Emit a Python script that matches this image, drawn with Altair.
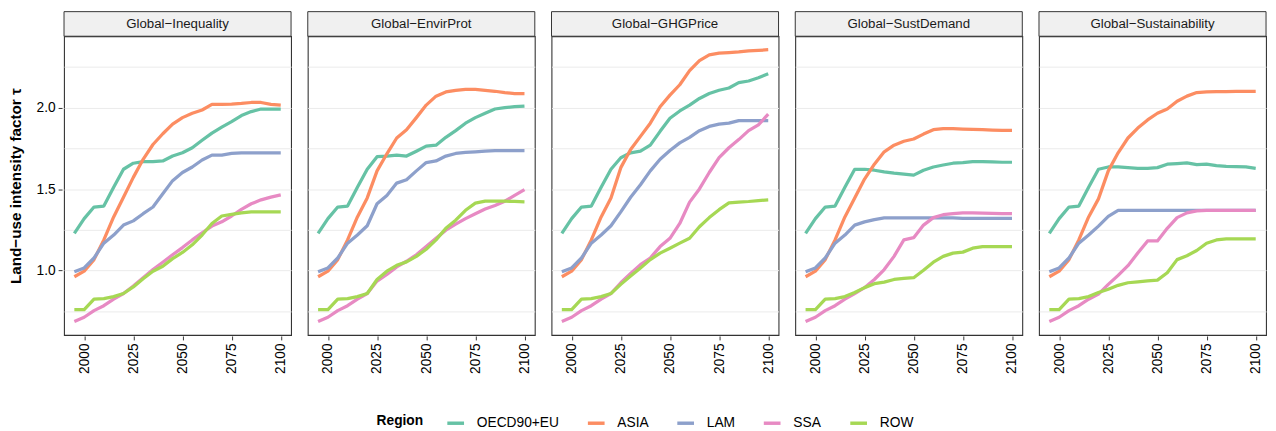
import altair as alt
import pandas as pd

YEARS = list(range(1995, 2101, 5))
REGIONS = ["OECD90+EU", "ASIA", "LAM", "SSA", "ROW"]
COLORS = ["#66c2a5", "#fc8d62", "#8da0cb", "#e78ac3", "#a6d854"]
SCENARIOS = ["Global−Inequality", "Global−EnvirProt", "Global−GHGPrice",
             "Global−SustDemand", "Global−Sustainability"]

# shared history 1995-2015
HIST_OECD = [1.228, 1.319, 1.390, 1.396, 1.511]
HIST_ASIA = [0.962, 0.996, 1.067, 1.188, 1.329]
HIST_LAM = [0.992, 1.016, 1.077, 1.168, 1.218]
HIST_SSA = [0.687, 0.713, 0.754, 0.784, 0.824]
HIST_ROW = [0.760, 0.760, 0.824, 0.828, 0.840]

# projections 2020-2100
INEQ_OECD = [1.622, 1.659, 1.669, 1.669, 1.673, 1.703, 1.723, 1.754, 1.800, 1.844, 1.881, 1.915, 1.952, 1.976, 1.992, 1.992, 1.992]
INEQ_ASIA = [1.450, 1.572, 1.683, 1.774, 1.840, 1.899, 1.939, 1.966, 1.986, 2.020, 2.020, 2.022, 2.026, 2.032, 2.032, 2.020, 2.016]
INEQ_LAM = [1.279, 1.305, 1.349, 1.390, 1.471, 1.552, 1.602, 1.636, 1.679, 1.709, 1.709, 1.719, 1.723, 1.723, 1.723, 1.723, 1.723]
INEQ_SSA = [0.859, 0.905, 0.956, 1.006, 1.051, 1.097, 1.141, 1.188, 1.232, 1.273, 1.299, 1.335, 1.376, 1.410, 1.434, 1.451, 1.465]
INEQ_ROW = [0.859, 0.899, 0.950, 0.996, 1.026, 1.073, 1.111, 1.158, 1.218, 1.289, 1.335, 1.345, 1.354, 1.360, 1.360, 1.360, 1.360]

ENV_OECD = [1.622, 1.699, 1.703, 1.709, 1.703, 1.733, 1.764, 1.770, 1.818, 1.859, 1.905, 1.939, 1.966, 1.992, 2.000, 2.006, 2.010]
ENV_ASIA = [1.446, 1.612, 1.717, 1.814, 1.865, 1.939, 2.016, 2.071, 2.097, 2.107, 2.113, 2.113, 2.107, 2.101, 2.093, 2.087, 2.087]
ENV_LAM = [1.275, 1.410, 1.461, 1.537, 1.558, 1.612, 1.663, 1.673, 1.703, 1.719, 1.725, 1.729, 1.733, 1.737, 1.737, 1.737, 1.737]
ENV_SSA = [0.859, 0.935, 0.976, 1.022, 1.057, 1.097, 1.147, 1.198, 1.248, 1.285, 1.319, 1.349, 1.378, 1.400, 1.426, 1.461, 1.497]
ENV_ROW = [0.859, 0.945, 0.996, 1.032, 1.053, 1.087, 1.131, 1.188, 1.259, 1.309, 1.370, 1.414, 1.426, 1.426, 1.426, 1.424, 1.422]

GHG_OECD = [1.622, 1.693, 1.723, 1.733, 1.770, 1.855, 1.935, 1.980, 2.016, 2.057, 2.087, 2.107, 2.121, 2.154, 2.164, 2.184, 2.208]
GHG_ASIA = [1.446, 1.632, 1.743, 1.824, 1.905, 2.006, 2.077, 2.141, 2.228, 2.289, 2.325, 2.335, 2.339, 2.343, 2.349, 2.352, 2.356]
GHG_LAM = [1.275, 1.360, 1.450, 1.527, 1.612, 1.683, 1.737, 1.784, 1.818, 1.859, 1.885, 1.899, 1.905, 1.921, 1.921, 1.921, 1.921]
GHG_SSA = [0.859, 0.925, 0.982, 1.036, 1.077, 1.147, 1.198, 1.289, 1.420, 1.501, 1.602, 1.693, 1.754, 1.804, 1.859, 1.895, 1.960]
GHG_ROW = [0.859, 0.915, 0.966, 1.016, 1.067, 1.107, 1.137, 1.168, 1.198, 1.269, 1.325, 1.374, 1.416, 1.420, 1.424, 1.430, 1.434]

SD_OECD = [1.622, 1.622, 1.616, 1.606, 1.598, 1.592, 1.586, 1.616, 1.636, 1.648, 1.659, 1.663, 1.669, 1.669, 1.667, 1.665, 1.665]
SD_ASIA = [1.446, 1.562, 1.653, 1.729, 1.770, 1.794, 1.808, 1.838, 1.865, 1.871, 1.871, 1.869, 1.867, 1.865, 1.863, 1.861, 1.861]
SD_LAM = [1.279, 1.299, 1.313, 1.323, 1.323, 1.323, 1.323, 1.323, 1.323, 1.323, 1.323, 1.321, 1.321, 1.320, 1.320, 1.320, 1.320]
SD_SSA = [0.859, 0.895, 0.945, 1.006, 1.087, 1.188, 1.202, 1.279, 1.325, 1.343, 1.349, 1.354, 1.354, 1.352, 1.351, 1.350, 1.349]
SD_ROW = [0.865, 0.895, 0.919, 0.929, 0.945, 0.952, 0.956, 1.002, 1.051, 1.087, 1.107, 1.113, 1.137, 1.147, 1.147, 1.147, 1.147]

SUS_OECD = [1.622, 1.636, 1.636, 1.632, 1.628, 1.628, 1.632, 1.653, 1.657, 1.661, 1.651, 1.653, 1.644, 1.640, 1.638, 1.636, 1.628]
SUS_ASIA = [1.440, 1.612, 1.723, 1.814, 1.875, 1.925, 1.966, 1.992, 2.040, 2.071, 2.093, 2.097, 2.099, 2.099, 2.100, 2.100, 2.101]
SUS_LAM = [1.273, 1.333, 1.370, 1.370, 1.370, 1.370, 1.370, 1.370, 1.370, 1.370, 1.370, 1.370, 1.370, 1.370, 1.370, 1.370, 1.370]
SUS_SSA = [0.855, 0.915, 0.970, 1.030, 1.107, 1.182, 1.182, 1.259, 1.325, 1.354, 1.366, 1.370, 1.370, 1.370, 1.370, 1.370, 1.370]
SUS_ROW = [0.865, 0.885, 0.909, 0.925, 0.931, 0.937, 0.941, 0.986, 1.067, 1.091, 1.123, 1.168, 1.188, 1.194, 1.194, 1.194, 1.194]

HIST = {"OECD90+EU": HIST_OECD, "ASIA": HIST_ASIA, "LAM": HIST_LAM, "SSA": HIST_SSA, "ROW": HIST_ROW}
PROJ = {
    SCENARIOS[0]: [INEQ_OECD, INEQ_ASIA, INEQ_LAM, INEQ_SSA, INEQ_ROW],
    SCENARIOS[1]: [ENV_OECD, ENV_ASIA, ENV_LAM, ENV_SSA, ENV_ROW],
    SCENARIOS[2]: [GHG_OECD, GHG_ASIA, GHG_LAM, GHG_SSA, GHG_ROW],
    SCENARIOS[3]: [SD_OECD, SD_ASIA, SD_LAM, SD_SSA, SD_ROW],
    SCENARIOS[4]: [SUS_OECD, SUS_ASIA, SUS_LAM, SUS_SSA, SUS_ROW],
}

rows = []
for s in SCENARIOS:
    for r, proj in zip(REGIONS, PROJ[s]):
        vals = HIST[r] + proj
        for y, v in zip(YEARS, vals):
            rows.append({"scenario": s, "region": r, "year": y, "value": v})
df = pd.DataFrame(rows)

FONT = "Liberation Sans"
W, H = 231, 304

lines = alt.Chart().mark_line(strokeWidth=3.3, strokeJoin="round", strokeCap="butt").encode(
    x=alt.X("year:Q",
            scale=alt.Scale(domain=[1989.75, 2105.25], nice=False, zero=False),
            axis=alt.Axis(values=[2000, 2025, 2050, 2075, 2100], labelAngle=270, format="d",
                          grid=False, domain=False, tickColor="#333333", tickSize=4,
                          labelPadding=3, labelFontSize=14, labelColor="#000000", title=None)),
    y=alt.Y("value:Q",
            scale=alt.Scale(domain=[0.604, 2.439], nice=False, zero=False),
            axis=alt.Axis(values=[0.75, 1.0, 1.25, 1.5, 1.75, 2.0, 2.25],
                          labelExpr="datum.value % 0.5 == 0 ? format(datum.value, '.1f') : ''",
                          tickOpacity={"condition": {"test": "datum.value % 0.5 == 0", "value": 1}, "value": 0},
                          grid=True, gridColor="#ebebeb", gridWidth=1, domain=False,
                          tickColor="#333333", tickSize=4, labelPadding=3, labelFontSize=14,
                          labelColor="#000000", title="Land−use intensity factor τ",
                          titleFontSize=15.5, titleFontWeight="bold", titleColor="#000000",
                          titlePadding=13)),
    color=alt.Color("region:N", scale=alt.Scale(domain=REGIONS, range=COLORS),
                    legend=alt.Legend(title="Region", orient="none", legendX=318, legendY=383,
                                      direction="horizontal", titleOrient="left",
                                      symbolType="stroke", symbolStrokeWidth=3.5, symbolSize=289,
                                      labelOffset=11, columnPadding=22, titlePadding=22,
                                      labelFontSize=14, titleFontSize=14, titleFontWeight="bold",
                                      labelColor="#000000", titleColor="#000000")),
)

one = "datum.year == 2100 && datum.region == 'OECD90+EU'"
strip = alt.Chart().mark_rect(fill="#f0f0f0", stroke="#333333", strokeWidth=1).encode(
    x=alt.value(0), x2=alt.value(W), y=alt.value(-25), y2=alt.value(0)
).transform_filter(one)
strip_text = alt.Chart().mark_text(font=FONT, fontSize=13.5, color="#1a1a1a", baseline="middle", align="center").encode(
    x=alt.value(W / 2), y=alt.value(-12.5), text="scenario:N"
).transform_filter(one)

chart = alt.layer(lines, strip, strip_text).properties(width=W, height=H).facet(
    column=alt.Column("scenario:N", sort=SCENARIOS, title=None,
                      header=alt.Header(labels=False, labelPadding=0, titlePadding=0)),
    data=df, spacing=13,
).properties(padding={"left": 0, "top": -2, "right": 0, "bottom": 0}).configure(
    font=FONT
).configure_view(stroke="#333333", strokeWidth=1.1).configure_axis(labelFont=FONT, titleFont=FONT).configure_legend(
    labelFont=FONT, titleFont=FONT)

chart.save("out.html", embed_options={"renderer": "svg", "actions": False})
